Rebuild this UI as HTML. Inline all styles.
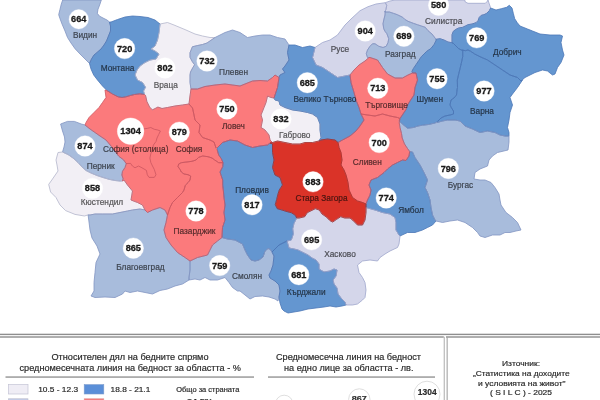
<!DOCTYPE html>
<html><head><meta charset="utf-8"><style>
html,body{margin:0;padding:0;background:#fff;}
body{width:600px;height:400px;overflow:hidden;position:relative;}
svg{position:absolute;left:0;top:0;display:block;}
.st polygon,.st polyline{fill:none;stroke-width:.8;stroke-linejoin:round;}
.ci circle{fill:#fff;stroke:#fff;stroke-width:.6;stroke-opacity:.6;}
.nu text{font-family:"Liberation Sans",Arial,sans-serif;font-weight:bold;font-size:8.7px;fill:#1a1a1a;stroke:#1a1a1a;stroke-width:.3px;}
.lb{mix-blend-mode:multiply;} .lb text{font-family:"Liberation Sans",Arial,sans-serif;font-size:8.3px;fill:#5c5c5c;stroke:#5c5c5c;stroke-width:.2px;text-anchor:middle;}
.lg text{font-family:"Liberation Sans",Arial,sans-serif;fill:#2a2a2a;stroke:#2a2a2a;stroke-width:.18px;}
</style></head><body>
<svg width="600" height="400" viewBox="0 0 600 400">
<g class="fi">
<polygon points="62.7,0 61.3,4 60,9.3 58.7,14.7 60,18.7 62,24 65,31 67.5,37.5 71,43 75,48.7 80,54 84,58 89.5,63.5 91.5,59 94,55 97,52.5 101,49 104,45 106.5,41 108.5,36 110.5,31 110.5,26 109.5,22 107,20 103,18 99.3,16 97.3,13.3 98,9.3 100,4 101.3,0" fill="#A8BCDC"/>
<polygon points="89.5,63.5 91.5,59 94,55 97,52.5 101,49 104,45 106.5,41 108.5,36 110.5,31 110.5,26 109.5,22 111,22 117.5,19.5 125,17 132.5,16 140,16.5 148,17.5 155,20 160,24 159,32.5 157.5,40 155,46 151,49 155,51 159,54 156,59 150,60 145,62.5 140,66 137,70 135,75 137.5,80 142.5,82.5 145.5,87.2 143.5,91 144.5,94.5 140,93.8 134.5,94.5 130.4,95.5 126,96.8 122,97.5 118,96.8 112.5,94 107,90.6 102.5,86 97.5,80 93.7,75 91,69" fill="#6496D0"/>
<polygon points="160,24 167.5,22.5 174,25 180,27.5 186,30 195,34 202.5,36 210,37.5 215,37.5 207,43 202.5,44.5 197.25,45.6 192.4,46.75 190,52.75 190,57.25 192.4,61.75 194.6,64.75 192.75,67.75 190.5,72 190,75 190,82.5 191,89 190,96 189,104 182.5,105 175,106 167.5,107.5 162,108.5 157.9,107.1 155.2,108.5 152.4,109.9 149.6,107.1 146.9,101.6 145.5,95.4 144.5,94.5 143.5,91 145.5,87.2 142.5,82.5 137.5,80 135,75 137,70 140,66 145,62.5 150,60 156,59 159,54 155,51 151,49 155,46 157.5,40 159,32.5" fill="#F2EFF5"/>
<polygon points="215,37.5 220,35 225,32.5 232.5,30 240,32.5 247.5,37.5 255,36 262.5,35 270,35 277.5,37.5 285,39 289,45 287.5,52.5 289,60 285,66 282.5,69 285,72.5 280,75 279,77.5 275,75 272.5,77.5 267.5,81 260,80.5 252.5,81 245,84 240,86 232.5,85 225,84 215,85 205,86.5 197.5,89 191,89 190,82.5 190,75 190.5,72 192.75,67.75 194.6,64.75 192.4,61.75 190,57.25 190,52.75 192.4,46.75 197.25,45.6 202.5,44.5 207,43" fill="#A8BCDC"/>
<polygon points="191,89 197.5,89 205,86.5 215,85 225,84 232.5,85 240,86 245,84 252.5,81 260,80.5 267.5,81 272.5,77.5 275,75 279,77.5 277.5,87.5 275,95 274,98 271,97.5 267.5,96 266,102.5 264,107.5 261,115 262.5,120 261,127.5 265,130 269,135 270,140 272.5,142.5 270,143 267.5,145 260,146 252.5,147.5 245,145 237.5,141 230,140 222.5,142.5 217.5,147.5 216,148 214,142 210,140 202.5,137.5 199,132.5 200,125 195,120 194,115 192.5,108 189,104 190,96" fill="#FB7A7C"/>
<polygon points="267.5,96 271,97.5 274,98 275,100 279,101 280,105 285,107.5 292.5,110 300,111 307.5,112.5 312.5,114 317.5,117.5 320,124 320,130 321,137.5 319,141 312.5,142.5 305,142.5 300,144 292.5,144 285,142.5 277.5,141 272.5,142.5 270,140 269,135 265,130 261,127.5 262.5,120 261,115 264,107.5 266,102.5" fill="#F2EFF5"/>
<polygon points="289,45 295,45 302.5,47.5 310,46 315,47.5 312.5,57.5 316,65 322.5,67.5 330,72.5 337.5,77.5 345,76 350,75 351,82.5 354,92.5 356,100 359,107.5 361,114 364,120 360,126 356,131 350,136 342.5,140 338,142.5 335,140 327.5,139 321,140 319,141 321,137.5 320,130 320,124 317.5,117.5 312.5,114 307.5,112.5 300,111 292.5,110 285,107.5 280,105 279,101 275,100 274,98 275,95 277.5,87.5 279,77.5 280,75 285,72.5 282.5,69 285,66 289,60 287.5,52.5" fill="#6496D0"/>
<polygon points="315,47.5 322.5,42.5 330,40 337.5,35 345,25 351,19 360,10.7 368,6.7 376,4 385.3,2.7 386.7,5.3 386,9.3 385.3,11 385,15 383.75,20 383,23.75 383.75,28.75 385,31.25 386.9,33.75 388.75,38.75 388,42.5 386.25,46.25 383,47.5 378.75,46.25 375,43.75 372.5,43.75 370,46.25 367.5,50 366.25,53.75 367.5,57.5 369,57.5 365,61 359,65 354,70 350,75 345,76 337.5,77.5 330,72.5 322.5,67.5 316,65 312.5,57.5" fill="#D4D6EA"/>
<polygon points="385.3,2.7 390,1 395,0 464.7,0 465.3,2 468,3.3 485.3,3.3 487.3,1.3 488,0 489.3,4 490.7,8 489.3,10.7 486.7,13.3 484,14.7 481.3,15.3 479.3,17.3 478,20.7 476,22.7 472,24 468,24.7 465.3,26 462.7,27.3 458.7,28 456,29.3 453.3,31.3 452,34.7 452,38 452,42.7 448,42 444,40 440,38.7 436,39.3 432,34 428,30.7 425.3,27.3 421.3,26 417.3,24.7 413.3,23.3 408,21.3 404.7,19.3 402.7,17.3 400,16 397.3,14.7 393.3,13.3 389.3,12 384.7,12 386,9.3 386.7,5.3" fill="#D4D6EA"/>
<polygon points="384.7,12 389.3,12 393.3,13.3 397.3,14.7 400,16 402.7,17.3 404.7,19.3 408,21.3 413.3,23.3 417.3,24.7 421.3,26 425.3,27.3 428,30.7 432,34 436,39.3 436,40.7 434,44.7 430.7,48.7 426.7,51.3 424,54 421.3,56.7 418.7,60.7 416,64.7 413.3,68.7 412,71.3 412.5,73 408,75 402.5,78 395,78 387.5,74 382.5,67.5 377.5,60 370,57.5 369,57.5 367.5,57.5 366.25,53.75 367.5,50 370,46.25 372.5,43.75 375,43.75 378.75,46.25 383,47.5 386.25,46.25 388,42.5 388.75,38.75 386.9,33.75 385,31.25 383.75,28.75 383,23.75 383.75,20 385,15 385.3,11" fill="#A8BCDC"/>
<polygon points="452,42.7 452,38 452,34.7 453.3,31.3 456,29.3 458.7,28 462.7,27.3 465.3,26 468,24.7 472,24 476,22.7 478,20.7 479.3,17.3 481.3,15.3 484,14.7 486.7,13.3 489.3,10.7 490.7,8 496,10 501.3,8.7 506.7,7.3 509.3,5.3 512,8 513.3,13.3 514.7,18.7 517.3,22.7 520,26 527.5,29 532.5,31 540,34 550,35 560,35 562.5,36 561,42.5 562.5,50 564,55 561,62.5 557.5,67.5 555,74 552.5,75 547.5,71 542.5,70 535,72.5 530,75 525,77.5 521,81 517.5,77.5 510,75 502.5,70 495,65 487.5,60 480,56.7 474.7,54 470.7,51.3 468,50 465.3,50.7 461.3,50 458.7,48.7 456,46 453.3,43.3" fill="#6496D0"/>
<polygon points="462.7,50 465.3,50.7 468,50 470.7,51.3 474.7,54 480,56.7 487.5,60 495,65 502.5,70 510,75 517.5,77.5 521,81 522.5,80 517.5,87.5 512.5,94 510,97.5 512.5,105 510,112.5 509,120 507.5,127.5 509,132.5 509,136 505,136 500,135 495,132.5 487.5,131 480,132.5 472.5,129 465,126 460,121 455,120 447.5,120 442.5,121 437,122.5 438,121 441,118 445,116 450,115 453.5,114 453.5,111 451.5,108 450,105 451,100 454,98 456.5,95 457,90 457.5,87.5 457.3,80 458.7,74 460,68.7 461.3,63.3 462.7,56.7" fill="#6496D0"/>
<polygon points="436,40.7 436,39.3 440,38.7 444,40 448,42 452,42.7 453.3,43.3 456,46 458.7,48.7 461.3,50 462.7,50 462.7,56.7 461.3,63.3 460,68.7 458.7,74 457.3,80 457.5,87.5 457,90 456.5,95 454,98 451,100 450,105 451.5,108 453.5,111 453.5,114 450,115 445,116 441,118 438,121 435,123 428.5,124.5 422.5,125.2 418,126 413.5,127.5 407.5,128.2 403,124.5 399.2,121 400,118.5 403,114 406,109.5 407.5,105 410,101 414,95 415,87.5 417.5,80 416,73 412.5,73 412,71.3 413.3,68.7 416,64.7 418.7,60.7 421.3,56.7 424,54 426.7,51.3 430.7,48.7 434,44.7" fill="#6496D0"/>
<polygon points="350,75 354,70 359,65 365,61 369,57.5 370,57.5 377.5,60 382.5,67.5 387.5,74 395,78 402.5,78 408,75 412.5,73 416,73 417.5,80 415,87.5 414,95 410,101 407.5,105 406,109.5 403,114 400,118.5 397.5,117.5 390,116 382.5,114 375,116 367.5,115 361,114 359,107.5 356,100 354,92.5 351,82.5" fill="#FB7A7C"/>
<polygon points="361,114 367.5,115 375,116 382.5,114 390,116 397.5,117.5 400,118.5 399.2,123 400,127.5 401.5,133.5 402.2,138 404.5,144 407.5,148.5 409.7,151.5 409,156 406,160.5 402.5,160 397.5,162.5 392.5,165 387.5,169 384,172.5 377.5,177.5 371,180 369,185 371,190 370,195 367.5,200 366,204 362.5,202.5 357.5,201 352.5,197.5 349,190 348,182.5 346,175 344,170 341,165 342,160 341,152.5 339,147.5 338,142.5 342.5,140 350,136 356,131 360,126 364,120" fill="#FB7A7C"/>
<polygon points="272.5,144 270,143 272.5,142.5 277.5,141 285,142.5 292.5,144 300,144 305,142.5 312.5,142.5 319,141 321,140 327.5,139 335,140 338,142.5 339,147.5 341,152.5 342,160 341,165 344,170 346,175 348,182.5 349,190 352.5,197.5 357.5,201 362.5,202.5 366,204 366,207.5 366,212.5 365,220 362.5,225 357.5,225 352.5,220 350,218 344.7,218 340.7,216.7 336.7,219.3 332.7,222 330,220.7 326,216.7 322,214 319.3,210 315.3,208.7 310,211.3 307.3,212.7 304.7,216.7 299.3,218 296.7,218 295.3,215.3 291.3,212.7 286,211.3 282,210 277.3,208.7 275.3,204.7 276.7,199.3 278,194 279.3,190 282.5,185 280,177.5 275,175 272.5,167.5 274,160 272.5,152.5" fill="#DA3328"/>
<polygon points="366,204 367.5,200 370,195 371,190 369,185 371,180 377.5,177.5 384,172.5 387.5,169 392.5,165 397.5,162.5 402.5,160 406,160.5 409,156 409.7,151.5 412.5,152 415,157.5 420,165 424,172.5 427.5,180 425,187.5 427.5,192.5 430,200 431,207.5 432.5,215 435,220 436,221 432.5,225 427.5,227.5 422.5,230 415,232.5 407.5,232.5 400,236 399,235 396,230 396,222.5 395,217.5 390,214 382.5,212.5 375,210 366,207.5" fill="#6496D0"/>
<polygon points="400,127.5 399.4,123 399.2,121 403,124.5 407.5,128.2 413.5,127.5 418,126 422.5,125.2 428.5,124.5 435,123 442.5,121 447.5,120 455,120 460,121 465,126 472.5,129 480,132.5 487.5,131 495,132.5 500,135 505,136 509,136 509,142 508,150 497.5,152.5 492.5,156 489,160 487.5,166 480,169 475,172.5 474,179 480,180 485,180 491,182.5 495,187.5 499,194 500,200 501,205 506,212.5 512.5,217.5 517.5,222.5 521,230 516,231 510,232.5 505,232.5 500,235 492.5,235 485,237.5 480,236 477.5,232.5 472.5,227.5 465,222.5 457.5,220 450,221 442.5,222.5 436,221 435,220 432.5,215 431,207.5 430,200 427.5,192.5 425,187.5 427.5,180 424,172.5 420,165 415,157.5 412.5,152 409.7,151.5 407.5,148.5 404.5,144 402.2,138 401.5,133.5" fill="#A8BCDC"/>
<polygon points="105,90 107,90.6 112.5,94 118,96.8 122,97.5 126,96.8 130.4,95.5 134.5,94.5 140,93.8 144.5,94.5 145.5,95.4 146.9,101.6 149.6,107.1 152.4,109.9 155.2,108.5 157.9,107.1 162,108.5 167.5,107.5 175,106 182.5,105 189,104 192.5,108 194,115 195,120 200,125 199,132.5 202.5,137.5 210,140 214,142 216,148 217.5,151 218.7,155 221.3,158.7 223,162.7 218.7,162.7 214.7,160 212,158 208,156.7 202.7,156 198.7,157.3 196,160 192,161.3 186.7,162 181.3,162.7 178.7,164 178,166.7 180,169.3 181.3,172 184,174 188,174.7 190.7,176 190,180 188,182.7 185.3,185.3 184,190 182.5,192.5 177.5,197.5 172.5,202.5 170,207.5 167.5,215 165,210 160,207.5 152.5,210 147.5,212.5 145,210 142.5,205 137.5,202.5 131,200 132.5,191 127.5,185 124,180 122.5,181 123.1,178.75 121.9,175 122.5,171.25 125,167.5 126.25,163.75 123.75,160 118.75,156.25 115,151.25 111.25,146.25 106,140 100,136 95,132.5 90,129 85,125 86,122.5 89,117.5 94,112.5 99,107.5 102.5,102.5 106,97.5" fill="#FB7A7C"/>
<polygon points="60.6,124 67.5,121.4 74.4,121.4 81.3,124 85,125 90,129 95,132.5 100,136 106,140 111.25,146.25 115,151.25 118.75,156.25 123.75,160 126.25,163.75 125,167.5 122.5,171.25 121.9,175 123.1,178.75 122.5,181 120,181 115,180.5 109,179.3 103,177.5 97,175.5 91,173 86,170.5 82,167 78,162.5 73,158 68,154.5 62.5,152 64,147 65,142 64.5,137 62.5,131" fill="#A8BCDC"/>
<polygon points="62.5,152 68,154.5 73,158 78,162.5 82,167 86,170.5 91,173 97,175.5 103,177.5 109,179.3 115,180.5 120,181 122.5,180 124,180 127.5,185 132.5,191 131,200 137.5,202.5 142.5,205 145,210 140,209 132.5,210 127.5,211 120,212.5 112.5,214 102.5,214 95,214 90,215 88.1,214.9 84.4,216 75,214.4 65.6,210.6 60,205 56,197.5 50.6,192 48.7,184.4 52.5,179 58,171 57,165 56,160 58,152.5" fill="#F2EFF5"/>
<polygon points="167.5,215 170,207.5 172.5,202.5 177.5,197.5 182.5,192.5 184,190 185.3,185.3 188,182.7 190,180 190.7,176 188,174.7 184,174 181.3,172 180,169.3 178,166.7 178.7,164 181.3,162.7 186.7,162 192,161.3 196,160 198.7,157.3 202.7,156 208,156.7 212,158 214.7,160 218.7,162.7 223,162.7 222.7,166.7 220,172 221.3,176 222.7,180 222.7,185.3 223.3,190 224,197.5 225,205 224,212.5 225,220 222.5,227.5 222,237.5 217.5,241 212.5,245 210,250 207.5,255 197.5,257.5 190,261 185,257.5 177.5,252.5 171,245 166,237.5 164,230 166,222.5" fill="#FB7A7C"/>
<polygon points="217.5,147.5 222.5,142.5 230,140 237.5,141 245,145 252.5,147.5 260,146 267.5,145 270,143 272.5,144 272.5,152.5 274,160 272.5,167.5 275,175 280,177.5 282.5,185 279.3,190 278,194 276.7,199.3 275.3,204.7 277.3,208.7 282,210 286,211.3 291.3,212.7 295.3,215.3 296.7,218 294,223.3 292.7,228.7 293.3,234 291.3,240 287,241 283,243 279,245 276,248 272,252 270,249 268,248.5 265,251 263,257 259,260 255,261 251,260 247.5,255 245,250 242.5,244 235,240 227.5,239 222,237.5 222.5,227.5 225,220 224,212.5 225,205 224,197.5 223.3,190 222.7,185.3 222.7,180 221.3,176 220,172 222.7,166.7 223,162.7 221.3,158.7 218.7,155 217.5,151" fill="#6496D0"/>
<polygon points="90,215 95,214 102.5,214 112.5,214 120,212.5 127.5,211 132.5,210 140,209 145,210 147.5,212.5 152.5,210 160,207.5 165,210 167.5,215 166,222.5 164,230 166,237.5 171,245 177.5,252.5 185,257.5 190,261 190,270 189,277.5 189,280 182.5,284 175,286 167.5,289 160,290.5 152.5,294 145,292.5 137.5,291 130,292.5 125,291 122.5,294 115,297.5 105,297 95,297.5 91,296 94,291 94,282.5 95,272.5 96,262.5 100,254 97,246 92,238 90,230 89,222 88.1,214.9" fill="#A8BCDC"/>
<polygon points="190,261 197.5,257.5 207.5,255 210,250 212.5,245 217.5,241 222,237.5 227.5,239 235,240 242.5,244 245,250 247.5,255 251,260 255,261 259,260 263,257 265,251 268,248.5 270,249 272,252 274,256 273,265 271,271 269,275 270,278 275,281 279,285 280,291 279,297 278,301 275,299 269,297 262.5,296 255,296.5 250,299 245,295 240,291 237.5,291 232.5,287.5 229,282.5 225,277.5 217.5,280 210,280 205,277.5 200,280 195,279 189,280 189,277.5 190,270" fill="#A8BCDC"/>
<polygon points="276,248 279,245 283,243 287,241 289,248 294,249 298,250 302,252 308,255 312,258 316,260 319,264 319,269 324,272 330,271 334,269 337,270 336,276 333,280 334,284 337,288 338,294 341,298 345,302 346,305 342,306 336,307 330,306 324,307 316,308 308,309 300,311 294,312 288,313 284,311 282,309 280,303 279,297 280,291 279,285 275,281 270,278 269,275 271,271 273,265 274,256 272,252" fill="#6496D0"/>
<polygon points="296.7,218 299.3,218 304.7,216.7 307.3,212.7 310,211.3 315.3,208.7 319.3,210 322,214 326,216.7 330,220.7 332.7,222 336.7,219.3 340.7,216.7 344.7,218 350,218 352.5,220 357.5,225 362.5,225 365,220 366,212.5 366,207.5 375,210 382.5,212.5 390,214 395,217.5 396,222.5 396,230 399,235 400,236 399,244 397.5,247.5 390,251 385,254 380,257.5 377.5,261 370,260 362.5,261 357.5,265 359,272.5 362.5,277.5 365,282.5 366,290 365,297.5 362.5,300 357.5,304 352.5,305 346,305 345,302 341,298 338,294 337,288 334,284 333,280 336,276 337,270 334,269 330,271 324,272 319,269 319,264 316,260 312,258 308,255 302,252 298,250 294,249 289,248 287,241 291.3,240 293.3,234 292.7,228.7 294,223.3" fill="#D4D6EA"/>
</g>
<g class="st">
<polygon points="62.7,0 61.3,4 60,9.3 58.7,14.7 60,18.7 62,24 65,31 67.5,37.5 71,43 75,48.7 80,54 84,58 89.5,63.5 91.5,59 94,55 97,52.5 101,49 104,45 106.5,41 108.5,36 110.5,31 110.5,26 109.5,22 107,20 103,18 99.3,16 97.3,13.3 98,9.3 100,4 101.3,0" stroke="#8294c2"/>
<polygon points="89.5,63.5 91.5,59 94,55 97,52.5 101,49 104,45 106.5,41 108.5,36 110.5,31 110.5,26 109.5,22 111,22 117.5,19.5 125,17 132.5,16 140,16.5 148,17.5 155,20 160,24 159,32.5 157.5,40 155,46 151,49 155,51 159,54 156,59 150,60 145,62.5 140,66 137,70 135,75 137.5,80 142.5,82.5 145.5,87.2 143.5,91 144.5,94.5 140,93.8 134.5,94.5 130.4,95.5 126,96.8 122,97.5 118,96.8 112.5,94 107,90.6 102.5,86 97.5,80 93.7,75 91,69" stroke="#4a76b6"/>
<polygon points="160,24 167.5,22.5 174,25 180,27.5 186,30 195,34 202.5,36 210,37.5 215,37.5 207,43 202.5,44.5 197.25,45.6 192.4,46.75 190,52.75 190,57.25 192.4,61.75 194.6,64.75 192.75,67.75 190.5,72 190,75 190,82.5 191,89 190,96 189,104 182.5,105 175,106 167.5,107.5 162,108.5 157.9,107.1 155.2,108.5 152.4,109.9 149.6,107.1 146.9,101.6 145.5,95.4 144.5,94.5 143.5,91 145.5,87.2 142.5,82.5 137.5,80 135,75 137,70 140,66 145,62.5 150,60 156,59 159,54 155,51 151,49 155,46 157.5,40 159,32.5" stroke="#b4b6cc"/>
<polygon points="215,37.5 220,35 225,32.5 232.5,30 240,32.5 247.5,37.5 255,36 262.5,35 270,35 277.5,37.5 285,39 289,45 287.5,52.5 289,60 285,66 282.5,69 285,72.5 280,75 279,77.5 275,75 272.5,77.5 267.5,81 260,80.5 252.5,81 245,84 240,86 232.5,85 225,84 215,85 205,86.5 197.5,89 191,89 190,82.5 190,75 190.5,72 192.75,67.75 194.6,64.75 192.4,61.75 190,57.25 190,52.75 192.4,46.75 197.25,45.6 202.5,44.5 207,43" stroke="#8294c2"/>
<polygon points="267.5,96 271,97.5 274,98 275,100 279,101 280,105 285,107.5 292.5,110 300,111 307.5,112.5 312.5,114 317.5,117.5 320,124 320,130 321,137.5 319,141 312.5,142.5 305,142.5 300,144 292.5,144 285,142.5 277.5,141 272.5,142.5 270,140 269,135 265,130 261,127.5 262.5,120 261,115 264,107.5 266,102.5" stroke="#b4b6cc"/>
<polygon points="289,45 295,45 302.5,47.5 310,46 315,47.5 312.5,57.5 316,65 322.5,67.5 330,72.5 337.5,77.5 345,76 350,75 351,82.5 354,92.5 356,100 359,107.5 361,114 364,120 360,126 356,131 350,136 342.5,140 338,142.5 335,140 327.5,139 321,140 319,141 321,137.5 320,130 320,124 317.5,117.5 312.5,114 307.5,112.5 300,111 292.5,110 285,107.5 280,105 279,101 275,100 274,98 275,95 277.5,87.5 279,77.5 280,75 285,72.5 282.5,69 285,66 289,60 287.5,52.5" stroke="#4a76b6"/>
<polygon points="315,47.5 322.5,42.5 330,40 337.5,35 345,25 351,19 360,10.7 368,6.7 376,4 385.3,2.7 386.7,5.3 386,9.3 385.3,11 385,15 383.75,20 383,23.75 383.75,28.75 385,31.25 386.9,33.75 388.75,38.75 388,42.5 386.25,46.25 383,47.5 378.75,46.25 375,43.75 372.5,43.75 370,46.25 367.5,50 366.25,53.75 367.5,57.5 369,57.5 365,61 359,65 354,70 350,75 345,76 337.5,77.5 330,72.5 322.5,67.5 316,65 312.5,57.5" stroke="#9ea6cc"/>
<polygon points="385.3,2.7 390,1 395,0 464.7,0 465.3,2 468,3.3 485.3,3.3 487.3,1.3 488,0 489.3,4 490.7,8 489.3,10.7 486.7,13.3 484,14.7 481.3,15.3 479.3,17.3 478,20.7 476,22.7 472,24 468,24.7 465.3,26 462.7,27.3 458.7,28 456,29.3 453.3,31.3 452,34.7 452,38 452,42.7 448,42 444,40 440,38.7 436,39.3 432,34 428,30.7 425.3,27.3 421.3,26 417.3,24.7 413.3,23.3 408,21.3 404.7,19.3 402.7,17.3 400,16 397.3,14.7 393.3,13.3 389.3,12 384.7,12 386,9.3 386.7,5.3" stroke="#9ea6cc"/>
<polygon points="384.7,12 389.3,12 393.3,13.3 397.3,14.7 400,16 402.7,17.3 404.7,19.3 408,21.3 413.3,23.3 417.3,24.7 421.3,26 425.3,27.3 428,30.7 432,34 436,39.3 436,40.7 434,44.7 430.7,48.7 426.7,51.3 424,54 421.3,56.7 418.7,60.7 416,64.7 413.3,68.7 412,71.3 412.5,73 408,75 402.5,78 395,78 387.5,74 382.5,67.5 377.5,60 370,57.5 369,57.5 367.5,57.5 366.25,53.75 367.5,50 370,46.25 372.5,43.75 375,43.75 378.75,46.25 383,47.5 386.25,46.25 388,42.5 388.75,38.75 386.9,33.75 385,31.25 383.75,28.75 383,23.75 383.75,20 385,15 385.3,11" stroke="#8294c2"/>
<polygon points="452,42.7 452,38 452,34.7 453.3,31.3 456,29.3 458.7,28 462.7,27.3 465.3,26 468,24.7 472,24 476,22.7 478,20.7 479.3,17.3 481.3,15.3 484,14.7 486.7,13.3 489.3,10.7 490.7,8 496,10 501.3,8.7 506.7,7.3 509.3,5.3 512,8 513.3,13.3 514.7,18.7 517.3,22.7 520,26 527.5,29 532.5,31 540,34 550,35 560,35 562.5,36 561,42.5 562.5,50 564,55 561,62.5 557.5,67.5 555,74 552.5,75 547.5,71 542.5,70 535,72.5 530,75 525,77.5 521,81 517.5,77.5 510,75 502.5,70 495,65 487.5,60 480,56.7 474.7,54 470.7,51.3 468,50 465.3,50.7 461.3,50 458.7,48.7 456,46 453.3,43.3" stroke="#4a76b6"/>
<polygon points="462.7,50 465.3,50.7 468,50 470.7,51.3 474.7,54 480,56.7 487.5,60 495,65 502.5,70 510,75 517.5,77.5 521,81 522.5,80 517.5,87.5 512.5,94 510,97.5 512.5,105 510,112.5 509,120 507.5,127.5 509,132.5 509,136 505,136 500,135 495,132.5 487.5,131 480,132.5 472.5,129 465,126 460,121 455,120 447.5,120 442.5,121 437,122.5 438,121 441,118 445,116 450,115 453.5,114 453.5,111 451.5,108 450,105 451,100 454,98 456.5,95 457,90 457.5,87.5 457.3,80 458.7,74 460,68.7 461.3,63.3 462.7,56.7" stroke="#4a76b6"/>
<polygon points="436,40.7 436,39.3 440,38.7 444,40 448,42 452,42.7 453.3,43.3 456,46 458.7,48.7 461.3,50 462.7,50 462.7,56.7 461.3,63.3 460,68.7 458.7,74 457.3,80 457.5,87.5 457,90 456.5,95 454,98 451,100 450,105 451.5,108 453.5,111 453.5,114 450,115 445,116 441,118 438,121 435,123 428.5,124.5 422.5,125.2 418,126 413.5,127.5 407.5,128.2 403,124.5 399.2,121 400,118.5 403,114 406,109.5 407.5,105 410,101 414,95 415,87.5 417.5,80 416,73 412.5,73 412,71.3 413.3,68.7 416,64.7 418.7,60.7 421.3,56.7 424,54 426.7,51.3 430.7,48.7 434,44.7" stroke="#4a76b6"/>
<polygon points="366,204 367.5,200 370,195 371,190 369,185 371,180 377.5,177.5 384,172.5 387.5,169 392.5,165 397.5,162.5 402.5,160 406,160.5 409,156 409.7,151.5 412.5,152 415,157.5 420,165 424,172.5 427.5,180 425,187.5 427.5,192.5 430,200 431,207.5 432.5,215 435,220 436,221 432.5,225 427.5,227.5 422.5,230 415,232.5 407.5,232.5 400,236 399,235 396,230 396,222.5 395,217.5 390,214 382.5,212.5 375,210 366,207.5" stroke="#4a76b6"/>
<polygon points="400,127.5 399.4,123 399.2,121 403,124.5 407.5,128.2 413.5,127.5 418,126 422.5,125.2 428.5,124.5 435,123 442.5,121 447.5,120 455,120 460,121 465,126 472.5,129 480,132.5 487.5,131 495,132.5 500,135 505,136 509,136 509,142 508,150 497.5,152.5 492.5,156 489,160 487.5,166 480,169 475,172.5 474,179 480,180 485,180 491,182.5 495,187.5 499,194 500,200 501,205 506,212.5 512.5,217.5 517.5,222.5 521,230 516,231 510,232.5 505,232.5 500,235 492.5,235 485,237.5 480,236 477.5,232.5 472.5,227.5 465,222.5 457.5,220 450,221 442.5,222.5 436,221 435,220 432.5,215 431,207.5 430,200 427.5,192.5 425,187.5 427.5,180 424,172.5 420,165 415,157.5 412.5,152 409.7,151.5 407.5,148.5 404.5,144 402.2,138 401.5,133.5" stroke="#8294c2"/>
<polygon points="60.6,124 67.5,121.4 74.4,121.4 81.3,124 85,125 90,129 95,132.5 100,136 106,140 111.25,146.25 115,151.25 118.75,156.25 123.75,160 126.25,163.75 125,167.5 122.5,171.25 121.9,175 123.1,178.75 122.5,181 120,181 115,180.5 109,179.3 103,177.5 97,175.5 91,173 86,170.5 82,167 78,162.5 73,158 68,154.5 62.5,152 64,147 65,142 64.5,137 62.5,131" stroke="#8294c2"/>
<polygon points="62.5,152 68,154.5 73,158 78,162.5 82,167 86,170.5 91,173 97,175.5 103,177.5 109,179.3 115,180.5 120,181 122.5,180 124,180 127.5,185 132.5,191 131,200 137.5,202.5 142.5,205 145,210 140,209 132.5,210 127.5,211 120,212.5 112.5,214 102.5,214 95,214 90,215 88.1,214.9 84.4,216 75,214.4 65.6,210.6 60,205 56,197.5 50.6,192 48.7,184.4 52.5,179 58,171 57,165 56,160 58,152.5" stroke="#b4b6cc"/>
<polygon points="217.5,147.5 222.5,142.5 230,140 237.5,141 245,145 252.5,147.5 260,146 267.5,145 270,143 272.5,144 272.5,152.5 274,160 272.5,167.5 275,175 280,177.5 282.5,185 279.3,190 278,194 276.7,199.3 275.3,204.7 277.3,208.7 282,210 286,211.3 291.3,212.7 295.3,215.3 296.7,218 294,223.3 292.7,228.7 293.3,234 291.3,240 287,241 283,243 279,245 276,248 272,252 270,249 268,248.5 265,251 263,257 259,260 255,261 251,260 247.5,255 245,250 242.5,244 235,240 227.5,239 222,237.5 222.5,227.5 225,220 224,212.5 225,205 224,197.5 223.3,190 222.7,185.3 222.7,180 221.3,176 220,172 222.7,166.7 223,162.7 221.3,158.7 218.7,155 217.5,151" stroke="#4a76b6"/>
<polygon points="90,215 95,214 102.5,214 112.5,214 120,212.5 127.5,211 132.5,210 140,209 145,210 147.5,212.5 152.5,210 160,207.5 165,210 167.5,215 166,222.5 164,230 166,237.5 171,245 177.5,252.5 185,257.5 190,261 190,270 189,277.5 189,280 182.5,284 175,286 167.5,289 160,290.5 152.5,294 145,292.5 137.5,291 130,292.5 125,291 122.5,294 115,297.5 105,297 95,297.5 91,296 94,291 94,282.5 95,272.5 96,262.5 100,254 97,246 92,238 90,230 89,222 88.1,214.9" stroke="#8294c2"/>
<polygon points="190,261 197.5,257.5 207.5,255 210,250 212.5,245 217.5,241 222,237.5 227.5,239 235,240 242.5,244 245,250 247.5,255 251,260 255,261 259,260 263,257 265,251 268,248.5 270,249 272,252 274,256 273,265 271,271 269,275 270,278 275,281 279,285 280,291 279,297 278,301 275,299 269,297 262.5,296 255,296.5 250,299 245,295 240,291 237.5,291 232.5,287.5 229,282.5 225,277.5 217.5,280 210,280 205,277.5 200,280 195,279 189,280 189,277.5 190,270" stroke="#8294c2"/>
<polygon points="276,248 279,245 283,243 287,241 289,248 294,249 298,250 302,252 308,255 312,258 316,260 319,264 319,269 324,272 330,271 334,269 337,270 336,276 333,280 334,284 337,288 338,294 341,298 345,302 346,305 342,306 336,307 330,306 324,307 316,308 308,309 300,311 294,312 288,313 284,311 282,309 280,303 279,297 280,291 279,285 275,281 270,278 269,275 271,271 273,265 274,256 272,252" stroke="#4a76b6"/>
<polygon points="296.7,218 299.3,218 304.7,216.7 307.3,212.7 310,211.3 315.3,208.7 319.3,210 322,214 326,216.7 330,220.7 332.7,222 336.7,219.3 340.7,216.7 344.7,218 350,218 352.5,220 357.5,225 362.5,225 365,220 366,212.5 366,207.5 375,210 382.5,212.5 390,214 395,217.5 396,222.5 396,230 399,235 400,236 399,244 397.5,247.5 390,251 385,254 380,257.5 377.5,261 370,260 362.5,261 357.5,265 359,272.5 362.5,277.5 365,282.5 366,290 365,297.5 362.5,300 357.5,304 352.5,305 346,305 345,302 341,298 338,294 337,288 334,284 333,280 336,276 337,270 334,269 330,271 324,272 319,269 319,264 316,260 312,258 308,255 302,252 298,250 294,249 289,248 287,241 291.3,240 293.3,234 292.7,228.7 294,223.3" stroke="#9ea6cc"/>
<polygon points="191,89 197.5,89 205,86.5 215,85 225,84 232.5,85 240,86 245,84 252.5,81 260,80.5 267.5,81 272.5,77.5 275,75 279,77.5 277.5,87.5 275,95 274,98 271,97.5 267.5,96 266,102.5 264,107.5 261,115 262.5,120 261,127.5 265,130 269,135 270,140 272.5,142.5 270,143 267.5,145 260,146 252.5,147.5 245,145 237.5,141 230,140 222.5,142.5 217.5,147.5 216,148 214,142 210,140 202.5,137.5 199,132.5 200,125 195,120 194,115 192.5,108 189,104 190,96" stroke="#cc5660"/>
<polygon points="350,75 354,70 359,65 365,61 369,57.5 370,57.5 377.5,60 382.5,67.5 387.5,74 395,78 402.5,78 408,75 412.5,73 416,73 417.5,80 415,87.5 414,95 410,101 407.5,105 406,109.5 403,114 400,118.5 397.5,117.5 390,116 382.5,114 375,116 367.5,115 361,114 359,107.5 356,100 354,92.5 351,82.5" stroke="#cc5660"/>
<polygon points="361,114 367.5,115 375,116 382.5,114 390,116 397.5,117.5 400,118.5 399.2,123 400,127.5 401.5,133.5 402.2,138 404.5,144 407.5,148.5 409.7,151.5 409,156 406,160.5 402.5,160 397.5,162.5 392.5,165 387.5,169 384,172.5 377.5,177.5 371,180 369,185 371,190 370,195 367.5,200 366,204 362.5,202.5 357.5,201 352.5,197.5 349,190 348,182.5 346,175 344,170 341,165 342,160 341,152.5 339,147.5 338,142.5 342.5,140 350,136 356,131 360,126 364,120" stroke="#cc5660"/>
<polygon points="272.5,144 270,143 272.5,142.5 277.5,141 285,142.5 292.5,144 300,144 305,142.5 312.5,142.5 319,141 321,140 327.5,139 335,140 338,142.5 339,147.5 341,152.5 342,160 341,165 344,170 346,175 348,182.5 349,190 352.5,197.5 357.5,201 362.5,202.5 366,204 366,207.5 366,212.5 365,220 362.5,225 357.5,225 352.5,220 350,218 344.7,218 340.7,216.7 336.7,219.3 332.7,222 330,220.7 326,216.7 322,214 319.3,210 315.3,208.7 310,211.3 307.3,212.7 304.7,216.7 299.3,218 296.7,218 295.3,215.3 291.3,212.7 286,211.3 282,210 277.3,208.7 275.3,204.7 276.7,199.3 278,194 279.3,190 282.5,185 280,177.5 275,175 272.5,167.5 274,160 272.5,152.5" stroke="#ac2a22"/>
<polygon points="105,90 107,90.6 112.5,94 118,96.8 122,97.5 126,96.8 130.4,95.5 134.5,94.5 140,93.8 144.5,94.5 145.5,95.4 146.9,101.6 149.6,107.1 152.4,109.9 155.2,108.5 157.9,107.1 162,108.5 167.5,107.5 175,106 182.5,105 189,104 192.5,108 194,115 195,120 200,125 199,132.5 202.5,137.5 210,140 214,142 216,148 217.5,151 218.7,155 221.3,158.7 223,162.7 218.7,162.7 214.7,160 212,158 208,156.7 202.7,156 198.7,157.3 196,160 192,161.3 186.7,162 181.3,162.7 178.7,164 178,166.7 180,169.3 181.3,172 184,174 188,174.7 190.7,176 190,180 188,182.7 185.3,185.3 184,190 182.5,192.5 177.5,197.5 172.5,202.5 170,207.5 167.5,215 165,210 160,207.5 152.5,210 147.5,212.5 145,210 142.5,205 137.5,202.5 131,200 132.5,191 127.5,185 124,180 122.5,181 123.1,178.75 121.9,175 122.5,171.25 125,167.5 126.25,163.75 123.75,160 118.75,156.25 115,151.25 111.25,146.25 106,140 100,136 95,132.5 90,129 85,125 86,122.5 89,117.5 94,112.5 99,107.5 102.5,102.5 106,97.5" stroke="#cc5660"/>
<polygon points="167.5,215 170,207.5 172.5,202.5 177.5,197.5 182.5,192.5 184,190 185.3,185.3 188,182.7 190,180 190.7,176 188,174.7 184,174 181.3,172 180,169.3 178,166.7 178.7,164 181.3,162.7 186.7,162 192,161.3 196,160 198.7,157.3 202.7,156 208,156.7 212,158 214.7,160 218.7,162.7 223,162.7 222.7,166.7 220,172 221.3,176 222.7,180 222.7,185.3 223.3,190 224,197.5 225,205 224,212.5 225,220 222.5,227.5 222,237.5 217.5,241 212.5,245 210,250 207.5,255 197.5,257.5 190,261 185,257.5 177.5,252.5 171,245 166,237.5 164,230 166,222.5" stroke="#cc5660"/>
<polyline points="126,163.5 130.6,163.4 132.4,166 135,167.8 138.5,166 142,167.8 146.4,170.4 147.3,174.8 149,177.4 154.3,177.4 156,174.8 154.3,169.5 152.5,166 150.8,162.5 149.9,158.1 150.8,153.8 152.5,149.4 153.4,145 156,141.5 157,138 158.7,134.5 160.4,131 157.8,130 154.3,129.3 150.8,127.5 147.3,128.4 143,129" stroke="#cc5660" fill="none"/>
</g>
<g class="ci">
<circle cx="78.75" cy="19.25" r="9.70"/>
<circle cx="124.6" cy="48.6" r="10.25"/>
<circle cx="165" cy="68" r="10.25"/>
<circle cx="207" cy="61" r="10.25"/>
<circle cx="227" cy="109" r="10.25"/>
<circle cx="281" cy="119" r="10.25"/>
<circle cx="307.3" cy="82.7" r="10.25"/>
<circle cx="365.2" cy="31" r="10.25"/>
<circle cx="403.9" cy="36.3" r="10.25"/>
<circle cx="438.6" cy="5.3" r="10.25"/>
<circle cx="476.7" cy="37.8" r="10.25"/>
<circle cx="437" cy="78.7" r="10.25"/>
<circle cx="484" cy="91" r="10.25"/>
<circle cx="377.8" cy="88.3" r="10.25"/>
<circle cx="379.2" cy="142.6" r="10.25"/>
<circle cx="313" cy="181.8" r="10.25"/>
<circle cx="386.2" cy="198" r="10.25"/>
<circle cx="448.3" cy="168.5" r="10.25"/>
<circle cx="252" cy="204.8" r="10.25"/>
<circle cx="196" cy="211" r="10.25"/>
<circle cx="179.3" cy="132.2" r="10.25"/>
<circle cx="130.6" cy="131.2" r="13.30"/>
<circle cx="85" cy="146" r="10.25"/>
<circle cx="92.5" cy="188.4" r="10.25"/>
<circle cx="133.3" cy="248.2" r="10.25"/>
<circle cx="219.7" cy="265.6" r="10.25"/>
<circle cx="311.6" cy="239.8" r="10.25"/>
<circle cx="298.8" cy="274.7" r="10.25"/>
</g>
<g class="nu">
<text x="71.10" y="22.30" textLength="15.3" lengthAdjust="spacingAndGlyphs">664</text>
<text x="116.95" y="51.65" textLength="15.3" lengthAdjust="spacingAndGlyphs">720</text>
<text x="157.35" y="71.05" textLength="15.3" lengthAdjust="spacingAndGlyphs">802</text>
<text x="199.35" y="64.05" textLength="15.3" lengthAdjust="spacingAndGlyphs">732</text>
<text x="219.35" y="112.05" textLength="15.3" lengthAdjust="spacingAndGlyphs">750</text>
<text x="273.35" y="122.05" textLength="15.3" lengthAdjust="spacingAndGlyphs">832</text>
<text x="299.65" y="85.75" textLength="15.3" lengthAdjust="spacingAndGlyphs">685</text>
<text x="357.55" y="34.05" textLength="15.3" lengthAdjust="spacingAndGlyphs">904</text>
<text x="396.25" y="39.35" textLength="15.3" lengthAdjust="spacingAndGlyphs">689</text>
<text x="430.95" y="8.35" textLength="15.3" lengthAdjust="spacingAndGlyphs">580</text>
<text x="469.05" y="40.85" textLength="15.3" lengthAdjust="spacingAndGlyphs">769</text>
<text x="429.35" y="81.75" textLength="15.3" lengthAdjust="spacingAndGlyphs">755</text>
<text x="476.35" y="94.05" textLength="15.3" lengthAdjust="spacingAndGlyphs">977</text>
<text x="370.15" y="91.35" textLength="15.3" lengthAdjust="spacingAndGlyphs">713</text>
<text x="371.55" y="145.65" textLength="15.3" lengthAdjust="spacingAndGlyphs">700</text>
<text x="305.35" y="184.85" textLength="15.3" lengthAdjust="spacingAndGlyphs">883</text>
<text x="378.55" y="201.05" textLength="15.3" lengthAdjust="spacingAndGlyphs">774</text>
<text x="440.65" y="171.55" textLength="15.3" lengthAdjust="spacingAndGlyphs">796</text>
<text x="244.35" y="207.85" textLength="15.3" lengthAdjust="spacingAndGlyphs">817</text>
<text x="188.35" y="214.05" textLength="15.3" lengthAdjust="spacingAndGlyphs">778</text>
<text x="171.65" y="135.25" textLength="15.3" lengthAdjust="spacingAndGlyphs">879</text>
<text x="120.30" y="134.25" textLength="20.6" lengthAdjust="spacingAndGlyphs">1304</text>
<text x="77.35" y="149.05" textLength="15.3" lengthAdjust="spacingAndGlyphs">874</text>
<text x="84.85" y="191.45" textLength="15.3" lengthAdjust="spacingAndGlyphs">858</text>
<text x="125.65" y="251.25" textLength="15.3" lengthAdjust="spacingAndGlyphs">865</text>
<text x="212.05" y="268.65" textLength="15.3" lengthAdjust="spacingAndGlyphs">759</text>
<text x="303.95" y="242.85" textLength="15.3" lengthAdjust="spacingAndGlyphs">695</text>
<text x="291.15" y="277.75" textLength="15.3" lengthAdjust="spacingAndGlyphs">681</text>
</g>
<g class="lb">
<text x="85" y="37.5">Видин</text>
<text x="117.5" y="71.1">Монтана</text>
<text x="165.8" y="87.5">Враца</text>
<text x="233.5" y="75.1">Плевен</text>
<text x="233.4" y="129.1">Ловеч</text>
<text x="294.7" y="137.7">Габрово</text>
<text x="325" y="102.3">Велико Търново</text>
<text x="340" y="52.4">Русе</text>
<text x="400.3" y="57.2">Разград</text>
<text x="443.7" y="24.1">Силистра</text>
<text x="507.3" y="54.5">Добрич</text>
<text x="429.7" y="102.1">Шумен</text>
<text x="482" y="114.1">Варна</text>
<text x="386.5" y="107.7">Търговище</text>
<text x="367.3" y="165.1">Сливен</text>
<text x="321.5" y="201.3">Стара Загора</text>
<text x="411" y="212.5">Ямбол</text>
<text x="460.4" y="188.0">Бургас</text>
<text x="252" y="192.6">Пловдив</text>
<text x="194.5" y="233.6">Пазарджик</text>
<text x="189" y="152.1">София</text>
<text x="135.7" y="152.1">София (столица)</text>
<text x="100.7" y="169.1">Перник</text>
<text x="102" y="205.1">Кюстендил</text>
<text x="140.4" y="269.8">Благоевград</text>
<text x="247" y="279.1">Смолян</text>
<text x="340" y="256.5">Хасково</text>
<text x="306.1" y="295.1">Кърджали</text>
</g>
<g class="lg">
<rect x="0" y="333.7" width="600" height="1.4" fill="#8e8e8e"/>
<rect x="0" y="336.3" width="443.8" height="1.4" fill="#8e8e8e"/><rect x="446" y="336.3" width="154" height="1.4" fill="#8e8e8e"/>
<rect x="443.7" y="336.8" width="1.1" height="64" fill="#b4b4b4"/>
<rect x="446.6" y="336.8" width="1.1" height="64" fill="#a4a4a4"/>
<text x="51.5" y="360" font-size="8.6" textLength="157" lengthAdjust="spacingAndGlyphs">Относителен дял на бедните спрямо</text>
<text x="19.5" y="370.8" font-size="8.6" textLength="221.5" lengthAdjust="spacingAndGlyphs">средномесечната линия на бедност за областта - %</text>
<rect x="5.5" y="376.5" width="248.5" height="1.1" fill="#777"/>
<rect x="8.5" y="384.6" width="19.5" height="9.4" fill="#EFEDF5" stroke="#c4c4d4" stroke-width=".7"/>
<text x="38.2" y="392" font-size="7" textLength="39.9" lengthAdjust="spacingAndGlyphs">10.5  -  12.3</text>
<rect x="84.2" y="384.6" width="19.6" height="9.4" fill="#5B8FD8" stroke="#7d9ccc" stroke-width=".6"/>
<text x="110.6" y="392" font-size="7" textLength="39.7" lengthAdjust="spacingAndGlyphs">18.8  -  21.1</text>
<text x="176.3" y="392.1" font-size="6.6" textLength="63" lengthAdjust="spacingAndGlyphs">Общо за страната</text>
<text x="187" y="404" font-size="7.5" font-weight="bold" textLength="26" lengthAdjust="spacingAndGlyphs">24.5%</text>
<rect x="8.5" y="398.8" width="19.5" height="9.4" fill="#C4CCE8" stroke="#b8b8c8" stroke-width=".6"/>
<rect x="84.2" y="398.8" width="19.6" height="9.4" fill="#F47C7C" stroke="#e09090" stroke-width=".6"/>
<text x="276" y="360" font-size="8.6" textLength="145" lengthAdjust="spacingAndGlyphs">Средномесечна линия на бедност</text>
<text x="284" y="370.8" font-size="8.6" textLength="129.5" lengthAdjust="spacingAndGlyphs">на едно лице за областта - лв.</text>
<rect x="268" y="376.5" width="167" height="1.1" fill="#777"/>
<circle cx="284.2" cy="404" r="8.8" fill="#fff" stroke="#d6d6d6" stroke-width=".8"/>
<circle cx="359.3" cy="399.5" r="10.7" fill="#fff" stroke="#d6d6d6" stroke-width=".8"/>
<text x="351.7" y="401" font-size="8" font-weight="bold" textLength="15.1" lengthAdjust="spacingAndGlyphs">867</text>
<circle cx="427" cy="394.2" r="13" fill="#fff" stroke="#d6d6d6" stroke-width=".8"/>
<text x="417.8" y="394.6" font-size="8.4" font-weight="bold" textLength="18.8" lengthAdjust="spacingAndGlyphs">1304</text>
<text x="502" y="366.4" font-size="7" textLength="38" lengthAdjust="spacingAndGlyphs">Източник:</text>
<text x="473" y="376.4" font-size="7" textLength="96.6" lengthAdjust="spacingAndGlyphs">„Статистика на доходите</text>
<text x="478" y="385.8" font-size="7" textLength="87.6" lengthAdjust="spacingAndGlyphs">и условията на живот"</text>
<text x="490" y="395.3" font-size="7" textLength="62" lengthAdjust="spacingAndGlyphs">( S I L C ) - 2025</text>
</g>
</svg>
</body></html>
